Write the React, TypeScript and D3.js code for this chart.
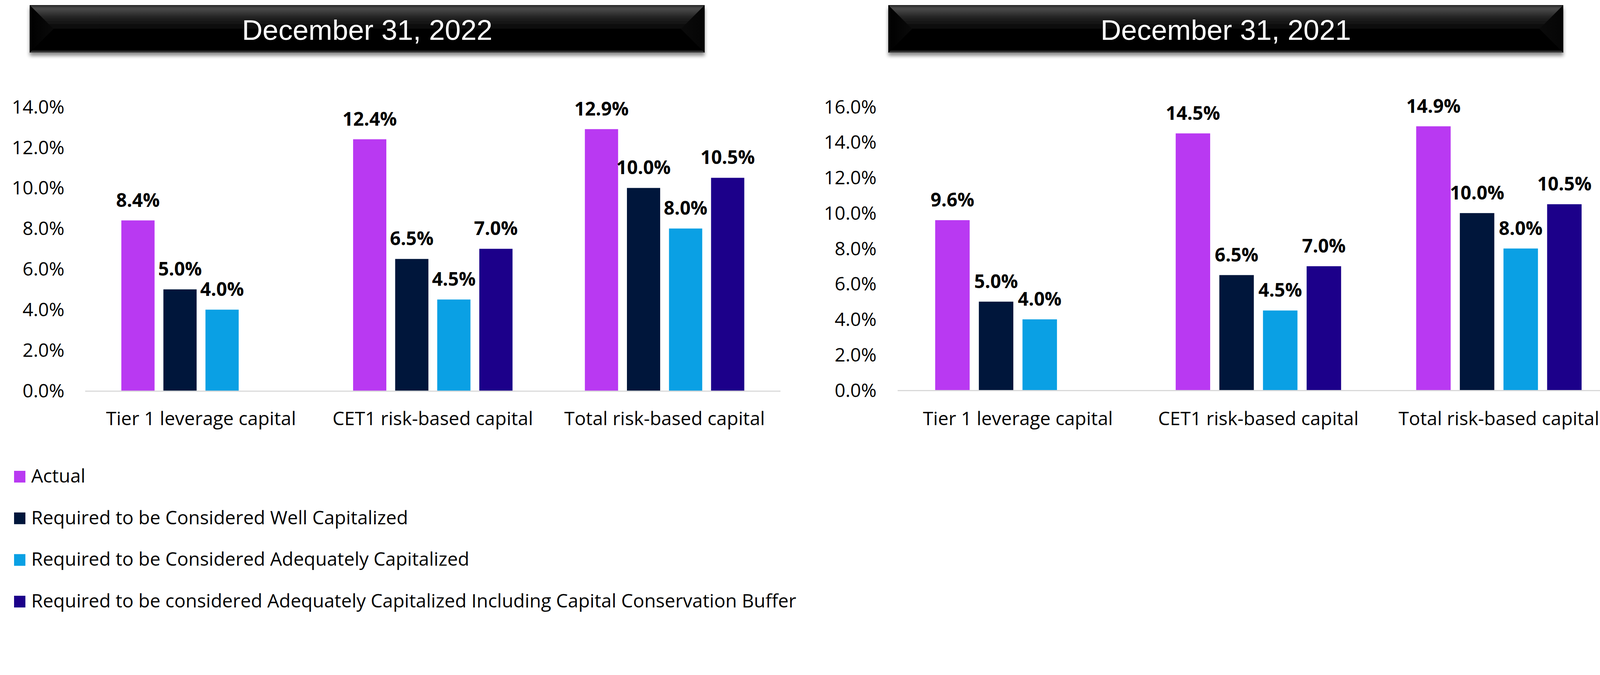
import * as d3 from 'd3'

// categories and series
const categories = ['Tier 1 leverage capital', 'CET1 risk-based capital', 'Total risk-based capital']
const seriesNames = [
  'Actual',
  'Required to be Considered Well Capitalized',
  'Required to be Considered Adequately Capitalized',
  'Required to be considered Adequately Capitalized Including Capital Conservation Buffer',
]
const seriesColors = ['#b939f2', '#00163b', '#0aa0e4', '#1c008a']

// December 31, 2022
const actual2022 = [8.4, 12.4, 12.9]
const wellCap2022 = [5.0, 6.5, 10.0]
const adequate2022 = [4.0, 4.5, 8.0]
const buffer2022: (number | null)[] = [null, 7.0, 10.5]
const ticks2022 = [0, 2, 4, 6, 8, 10, 12, 14]

// December 31, 2021
const actual2021 = [9.6, 14.5, 14.9]
const wellCap2021 = [5.0, 6.5, 10.0]
const adequate2021 = [4.0, 4.5, 8.0]
const buffer2021: (number | null)[] = [null, 7.0, 10.5]
const ticks2021 = [0, 2, 4, 6, 8, 10, 12, 14, 16]

const W = 4196
const H = 1729
const FONT = '"Open Sans", "Noto Sans", sans-serif'

interface PanelProps {
  title: string
  series: (number | null)[][]
  ticks: number[]
  box: [number, number]
  plotX: [number, number]
  plotY: [number, number]
  tickRight: number
}

function TitleBox({ title, x0, x1 }: { title: string; x0: number; x1: number }) {
  const y0 = 13
  const y1 = 135
  const ym = (y0 + y1) / 2
  const bevel = 61
  return (
    <g>
      <rect x={x0} y={y0} width={x1 - x0} height={y1 - y0} fill="url(#boxGrad)" filter="url(#boxShadow)" />
      <polygon points={`${x0},${y0} ${x0 + bevel},${ym} ${x0},${y1}`} fill="url(#bevelL)" />
      <polygon points={`${x1},${y0} ${x1 - bevel},${ym} ${x1},${y1}`} fill="url(#bevelR)" />
      <text
        x={(x0 + x1) / 2}
        y={102}
        textAnchor="middle"
        fill="#fff"
        style={{ fontFamily: '"Liberation Sans", Arial, sans-serif', fontSize: 73 }}
      >
        {title}
      </text>
    </g>
  )
}

function Panel({ title, series, ticks, box, plotX, plotY, tickRight }: PanelProps) {
  const x0 = d3.scaleBand<string>().domain(categories).range(plotX)
  const x1 = d3.scaleBand<number>()
    .domain(d3.range(seriesNames.length))
    .range([0, x0.bandwidth()])
    .paddingInner(0.21)
    .paddingOuter(0.86)
  const y = d3.scaleLinear().domain([0, ticks[ticks.length - 1]]).range(plotY)
  const fmt = d3.format('.1f')

  return (
    <g>
      <TitleBox title={title} x0={box[0]} x1={box[1]} />

      {/* y tick labels */}
      {ticks.map(t => (
        <text
          key={t}
          x={tickRight}
          y={y(t) + 17}
          textAnchor="end"
          fill="#000"
          style={{ fontFamily: FONT, fontSize: 48 }}
        >
          {fmt(t)}%
        </text>
      ))}

      {/* bars */}
      {categories.map((c, ci) => (
        <g key={c} transform={`translate(${x0(c)},0)`}>
          {series.map((vals, si) => {
            const v = vals[ci]
            if (v == null) return null
            const bx = x1(si) ?? 0
            return (
              <g key={si}>
                <rect x={bx} y={y(v)} width={x1.bandwidth()} height={y(0) - y(v)} fill={seriesColors[si]} />
                <text
                  x={bx + x1.bandwidth() / 2}
                  y={y(v) - 35}
                  textAnchor="middle"
                  fill="#000"
                  style={{ fontFamily: FONT, fontSize: 48, fontWeight: 700 }}
                >
                  {fmt(v)}%
                </text>
              </g>
            )
          })}
        </g>
      ))}

      {/* baseline */}
      <line x1={plotX[0]} x2={plotX[1]} y1={y(0) + 1} y2={y(0) + 1} stroke="#d9d9d9" strokeWidth={3} />

      {/* category labels */}
      {categories.map(c => (
        <text
          key={c}
          x={(x0(c) ?? 0) + x0.bandwidth() / 2}
          y={1089}
          textAnchor="middle"
          fill="#000"
          style={{ fontFamily: FONT, fontSize: 48 }}
        >
          {c}
        </text>
      ))}
    </g>
  )
}

export default function App() {
  const legendY = d3.scalePoint<string>().domain(seriesNames).range([1221, 1541])

  return (
    <svg width={W} height={H} style={{ position: 'absolute', left: 0, top: 0, background: '#fff' }}>
      <defs>
        <linearGradient id="boxGrad" x1="0" y1="0" x2="0" y2="1">
          <stop offset="0" stopColor="#111" />
          <stop offset="0.03" stopColor="#3c3c3c" />
          <stop offset="0.08" stopColor="#4a4a4a" />
          <stop offset="0.16" stopColor="#383838" />
          <stop offset="0.26" stopColor="#222" />
          <stop offset="0.4" stopColor="#111" />
          <stop offset="0.52" stopColor="#040404" />
          <stop offset="0.58" stopColor="#000" />
          <stop offset="0.94" stopColor="#000" />
          <stop offset="0.97" stopColor="#2a2a2a" />
          <stop offset="1" stopColor="#555" />
        </linearGradient>
        <linearGradient id="bevelL" x1="0" y1="0" x2="1" y2="0">
          <stop offset="0" stopColor="#000" />
          <stop offset="1" stopColor="#0a0a0a" />
        </linearGradient>
        <linearGradient id="bevelR" x1="0" y1="0" x2="1" y2="0">
          <stop offset="0" stopColor="#0a0a0a" />
          <stop offset="1" stopColor="#050505" />
        </linearGradient>
        <filter id="boxShadow" x="-5%" y="-20%" width="110%" height="160%">
          <feDropShadow dx="0" dy="8" stdDeviation="5" floodColor="#000" floodOpacity="0.45" />
        </filter>
      </defs>

      <Panel
        title="December 31, 2022"
        series={[actual2022, wellCap2022, adequate2022, buffer2022]}
        ticks={ticks2022}
        box={[76, 1804]}
        plotX={[218, 1998]}
        plotY={[1001, 273.6]}
        tickRight={165}
      />
      <Panel
        title="December 31, 2021"
        series={[actual2021, wellCap2021, adequate2021, buffer2021]}
        ticks={ticks2021}
        box={[2274, 4002]}
        plotX={[2298, 4145]}
        plotY={[999.5, 273.6]}
        tickRight={2244}
      />

      {/* legend */}
      {seriesNames.map((name, i) => (
        <g key={name} transform={`translate(36,${legendY(name)})`}>
          <rect x={0} y={-15} width={29} height={30} fill={seriesColors[i]} />
          <text x={44} y={15} fill="#000" style={{ fontFamily: FONT, fontSize: 48 }}>
            {name}
          </text>
        </g>
      ))}
    </svg>
  )
}
